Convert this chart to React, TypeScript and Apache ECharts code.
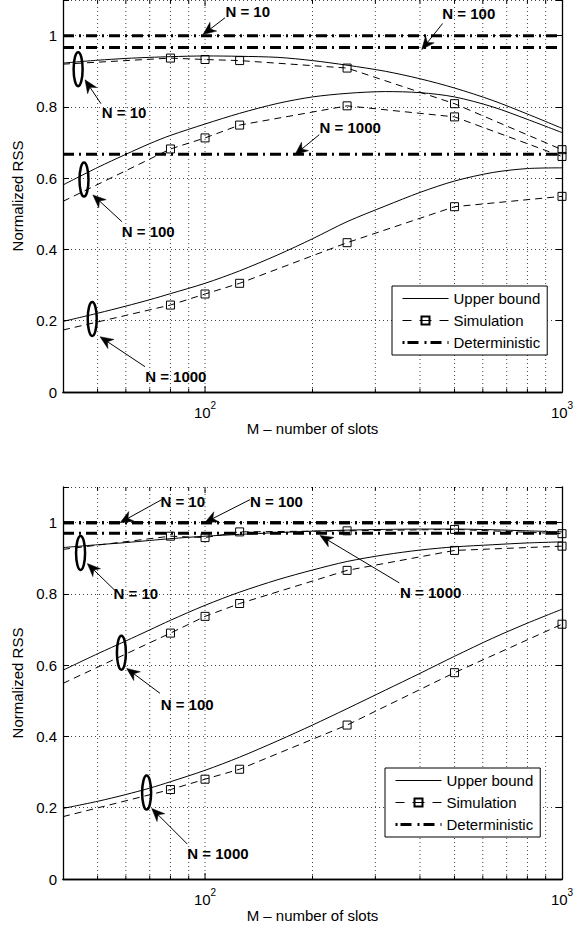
import React, { useEffect, useRef } from 'react';
import * as echarts from 'echarts';

const FONT = '"Liberation Sans", Arial, Helvetica, sans-serif';
const X_MIN = 40;
const X_MAX = 1000;
const Y_MAX = 1.1;

// x positions of the analytic upper-bound curves
const M_BOUND = [40, 50, 60, 70, 80, 100, 125, 160, 200, 250, 320, 400, 500, 640, 800, 1000];
// x positions of the simulation points (first point drawn without marker)
const M_SIM = [40, 80, 100, 125, 250, 500, 1000];

// ---- top plot ----
const ubTop10 = [0.923, 0.931, 0.936, 0.939, 0.941, 0.943, 0.942, 0.939, 0.930, 0.917, 0.900, 0.879, 0.853, 0.818, 0.780, 0.740];
const ubTop100 = [0.581, 0.630, 0.667, 0.697, 0.720, 0.752, 0.782, 0.810, 0.828, 0.838, 0.843, 0.840, 0.828, 0.800, 0.765, 0.728];
const ubTop1000 = [0.198, 0.221, 0.241, 0.259, 0.276, 0.305, 0.340, 0.385, 0.430, 0.478, 0.522, 0.560, 0.592, 0.616, 0.627, 0.629];
const simTop10 = [0.920, 0.937, 0.933, 0.930, 0.909, 0.809, 0.680];
const simTop100 = [0.535, 0.682, 0.713, 0.749, 0.803, 0.772, 0.661];
const simTop1000 = [0.174, 0.244, 0.275, 0.305, 0.419, 0.520, 0.549];
const detTop = [1.0, 0.967, 0.667];

// ---- bottom plot ----
const ubBot10 = [0.930, 0.938, 0.944, 0.950, 0.955, 0.962, 0.967, 0.972, 0.976, 0.979, 0.981, 0.982, 0.982, 0.980, 0.977, 0.974];
const ubBot100 = [0.586, 0.632, 0.668, 0.699, 0.726, 0.768, 0.805, 0.840, 0.867, 0.891, 0.910, 0.923, 0.932, 0.938, 0.943, 0.946];
const ubBot1000 = [0.198, 0.218, 0.237, 0.255, 0.273, 0.305, 0.342, 0.388, 0.432, 0.478, 0.530, 0.577, 0.625, 0.676, 0.718, 0.757];
const simBot10 = [0.925, 0.962, 0.958, 0.974, 0.977, 0.981, 0.969];
const simBot100 = [0.549, 0.690, 0.737, 0.773, 0.866, 0.922, 0.934];
const simBot1000 = [0.175, 0.251, 0.280, 0.308, 0.432, 0.579, 0.715];
const detBot = [1.0, 1.0, 0.97];

// vertical grid lines (log minor + major)
const GRID_X = [50, 60, 70, 80, 90, 100, 200, 300, 400, 500, 600, 700, 800, 900];
const Y_TICKS_LABEL_MAX = 1.0;

// annotations in data coordinates [M, value]
const ELLIPSES = [
  [[44.1, 0.906], [45.8, 0.596], [48.3, 0.205]],
  [[44.8, 0.915], [58.3, 0.635], [68.6, 0.2425]],
];
// [tailM, tailV, tipM, tipV]
const ARROWS = [
  [[51.1, 0.809, 46.1, 0.876], [58.5, 0.478, 48.5, 0.553], [67.9, 0.071, 50.8, 0.155],
   [113.7, 1.05, 98.7, 1.003], [463, 1.034, 404.6, 0.961], [208.9, 0.722, 178.6, 0.666]],
  [[75.6, 1.0645, 57.8, 1.0], [133.6, 1.0645, 99.8, 1.0], [350, 0.831, 209.9, 0.964],
   [55.9, 0.81, 46.8, 0.885], [74.8, 0.521, 60.3, 0.591], [89.2, 0.098, 70.9, 0.198]],
];
const LABELS: [string, number, number][][] = [
  [['N = 10', 59.3, 0.785], ['N = 100', 69.3, 0.45], ['N = 1000', 82.8, 0.044],
   ['N = 10', 131.7, 1.069], ['N = 100', 548, 1.061], ['N = 1000', 255, 0.743]],
  [['N = 10', 86.6, 1.059], ['N = 100', 158.5, 1.059], ['N = 1000', 428.8, 0.803],
   ['N = 10', 64, 0.8], ['N = 100', 89.1, 0.489], ['N = 1000', 108.7, 0.072]],
];

const PLOTS = [
  { ub: [ubTop10, ubTop100, ubTop1000], sim: [simTop10, simTop100, simTop1000], det: detTop },
  { ub: [ubBot10, ubBot100, ubBot1000], sim: [simBot10, simBot100, simBot1000], det: detBot },
];

const GRID_LAYOUT = [
  { left: 63, top: 0, width: 499, height: 392 },
  { left: 63, top: 487, width: 499, height: 392 },
];
const LEGEND_POS = [
  { left: 392, top: 286 },
  { left: 385, top: 768 },
];

const TRANSPARENT = 'rgba(0,0,0,0)';
const DOT = [1, 3];

function buildOption() {
  const xAxis: any[] = [];
  const yAxis: any[] = [];
  const series: any[] = [];
  const legend: any[] = [];
  PLOTS.forEach((p, g) => {
    xAxis.push({
      type: 'log', logBase: 10, min: X_MIN, max: X_MAX, gridIndex: g, position: 'bottom',
      axisLine: { show: true, lineStyle: { color: '#000', width: 1.3 } },
      axisTick: { show: false }, splitLine: { show: false },
      axisLabel: {
        margin: 8, color: '#000', fontFamily: FONT,
        formatter: (v: number) => {
          const l = Math.log10(v);
          const r = Math.round(l);
          if (Math.abs(l - r) < 1e-6 && r >= 2) return '{b|10}{s|' + r + '}';
          return '';
        },
        rich: {
          b: { fontSize: 15, fontFamily: FONT, color: '#000', verticalAlign: 'bottom', lineHeight: 20 },
          s: { fontSize: 10, fontFamily: FONT, color: '#000', verticalAlign: 'top', lineHeight: 20 },
        },
      },
      name: 'M \u2013 number of slots', nameLocation: 'middle', nameGap: 29,
      nameTextStyle: { fontSize: 15, fontFamily: FONT, color: '#000' },
    });
    xAxis.push({
      type: 'log', logBase: 10, min: X_MIN, max: X_MAX, gridIndex: g, position: 'top',
      axisLine: { show: true, lineStyle: { color: '#000', width: 1.3 } },
      axisTick: { show: false }, splitLine: { show: false }, axisLabel: { show: false },
    });
    yAxis.push({
      type: 'value', min: 0, max: Y_MAX, interval: 0.2, gridIndex: g, position: 'left',
      axisLine: { show: true, lineStyle: { color: '#000', width: 1.3 } },
      axisTick: { show: true, inside: true, length: 6, lineStyle: { color: '#000' } },
      splitLine: { show: true, lineStyle: { color: '#444', width: 1, type: DOT } },
      axisLabel: {
        margin: 6, fontSize: 15, fontFamily: FONT, color: '#000',
        formatter: (v: number) => (v > Y_TICKS_LABEL_MAX + 0.05 ? '' : String(+v.toFixed(1))),
      },
      name: 'Normalized RSS', nameLocation: 'middle', nameGap: 28,
      nameTextStyle: { fontSize: 15, fontFamily: FONT, color: '#000' },
    });
    yAxis.push({
      type: 'value', min: 0, max: Y_MAX, interval: 0.2, gridIndex: g, position: 'right',
      axisLine: { show: true, lineStyle: { color: '#000', width: 1.3 } },
      axisTick: { show: true, inside: true, length: 6, lineStyle: { color: '#000' } },
      splitLine: { show: false }, axisLabel: { show: false },
    });
    const xi = g * 2;
    const yi = g * 2;
    series.push({
      type: 'custom', name: 'grid' + g, xAxisIndex: xi, yAxisIndex: yi, silent: true, z: 1,
      data: GRID_X.map((x) => [x, 0]),
      renderItem: (_params: any, api: any) => {
        const x = api.value(0);
        const b = api.coord([x, 0]);
        const t = api.coord([x, Y_MAX]);
        const l = Math.log10(x);
        const major = Math.abs(l - Math.round(l)) < 1e-9;
        const tl = major ? 6 : 3.5;
        return {
          type: 'group',
          children: [
            { type: 'line', shape: { x1: b[0], y1: b[1], x2: t[0], y2: t[1] }, style: { stroke: '#444', lineWidth: 1, lineDash: DOT } },
            { type: 'line', shape: { x1: b[0], y1: b[1], x2: b[0], y2: b[1] - tl }, style: { stroke: '#000', lineWidth: 1 } },
            { type: 'line', shape: { x1: t[0], y1: t[1], x2: t[0], y2: t[1] + tl }, style: { stroke: '#000', lineWidth: 1 } },
          ],
        };
      },
    });
    p.ub.forEach((arr) => {
      series.push({
        type: 'line', name: 'Upper bound', xAxisIndex: xi, yAxisIndex: yi, z: 3,
        data: M_BOUND.map((m, i) => [m, arr[i]]),
        symbol: 'none', showSymbol: false, smooth: 0.3,
        lineStyle: { color: '#000', width: 1 },
        itemStyle: { color: TRANSPARENT, borderColor: TRANSPARENT },
      });
    });
    p.sim.forEach((arr) => {
      series.push({
        type: 'line', name: 'Simulation', xAxisIndex: xi, yAxisIndex: yi, z: 4,
        data: M_SIM.map((m, i) => (i === 0 ? { value: [m, arr[i]], symbol: 'none' } : [m, arr[i]])),
        symbol: 'rect', symbolSize: 8, showSymbol: true, showAllSymbol: true,
        lineStyle: { color: '#000', width: 1, type: [7, 5] },
        itemStyle: { color: TRANSPARENT, borderColor: '#000', borderWidth: 1 },
      });
    });
    p.det.forEach((v) => {
      series.push({
        type: 'line', name: 'Deterministic', xAxisIndex: xi, yAxisIndex: yi, z: 5,
        data: [[X_MIN, v], [X_MAX, v]],
        symbol: 'none', showSymbol: false,
        lineStyle: { color: '#000', width: 3, type: [11, 5, 2, 5] },
        itemStyle: { color: TRANSPARENT, borderColor: TRANSPARENT },
      });
    });
    legend.push({
      ...LEGEND_POS[g], orient: 'vertical', show: true,
      backgroundColor: '#fff', borderColor: '#000', borderWidth: 1, borderRadius: 0,
      padding: [5, 7, 5, 9], itemGap: 7, itemWidth: 46, itemHeight: 10,
      textStyle: { fontSize: 15, fontFamily: FONT, color: '#000' },
      selectedMode: false,
      data: [
        { name: 'Upper bound', lineStyle: { width: 1 }, itemStyle: { opacity: 0 } },
        { name: 'Simulation', lineStyle: { width: 1, type: [9, 8, 12, 8, 9] } },
        { name: 'Deterministic', lineStyle: { width: 3, type: [2, 3, 11, 6, 2, 4, 11, 6, 2] }, itemStyle: { opacity: 0 } },
      ],
    });
  });
  return {
    animation: false,
    backgroundColor: '#fff',
    textStyle: { fontFamily: FONT, color: '#000' },
    grid: GRID_LAYOUT,
    xAxis, yAxis, series, legend,
  };
}

function buildGraphics(chart: any) {
  const els: any[] = [];
  PLOTS.forEach((_p, g) => {
    const px = (x: number, y: number) => chart.convertToPixel({ xAxisIndex: g * 2, yAxisIndex: g * 2 }, [x, y]);
    ELLIPSES[g].forEach(([m, v]) => {
      const c = px(m, v);
      els.push({ type: 'ellipse', shape: { cx: c[0], cy: c[1], rx: 4.5, ry: 17 }, style: { fill: 'none', stroke: '#000', lineWidth: 2.5 }, z: 10 });
    });
    ARROWS[g].forEach(([tm, tv, hm, hv]) => {
      const t = px(tm, tv);
      const h = px(hm, hv);
      const dx = h[0] - t[0];
      const dy = h[1] - t[1];
      const len = Math.sqrt(dx * dx + dy * dy);
      const ux = dx / len;
      const uy = dy / len;
      const nx = -uy;
      const ny = ux;
      const hl = 13;
      const hw = 5.5;
      const bx = h[0] - ux * hl;
      const by = h[1] - uy * hl;
      els.push({ type: 'line', shape: { x1: t[0], y1: t[1], x2: h[0] - ux * 8, y2: h[1] - uy * 8 }, style: { stroke: '#000', lineWidth: 1 }, z: 10 });
      els.push({
        type: 'polygon', z: 10,
        shape: { points: [[h[0], h[1]], [bx + nx * hw, by + ny * hw], [h[0] - ux * 9, h[1] - uy * 9], [bx - nx * hw, by - ny * hw]] },
        style: { fill: '#000', stroke: '#000', lineWidth: 0.5 },
      });
    });
    LABELS[g].forEach(([txt, m, v]) => {
      const c = px(m, v);
      els.push({
        type: 'text', x: c[0], y: c[1], z: 11,
        style: { text: txt, fontSize: 15, fontWeight: 'bold', fontFamily: FONT, fill: '#000', align: 'center', verticalAlign: 'middle' },
      });
    });
  });
  return els;
}

export default function App() {
  const ref = useRef<HTMLDivElement>(null);
  useEffect(() => {
    if (!ref.current) return;
    const chart = echarts.init(ref.current, undefined, { renderer: 'svg' });
    chart.setOption(buildOption() as any);
    chart.setOption({ graphic: buildGraphics(chart) } as any);
    return () => chart.dispose();
  }, []);
  return (
    <div
      ref={ref}
      style={{ position: 'fixed', left: 0, top: 0, width: 588, height: 931, background: '#fff' }}
    />
  );
}
